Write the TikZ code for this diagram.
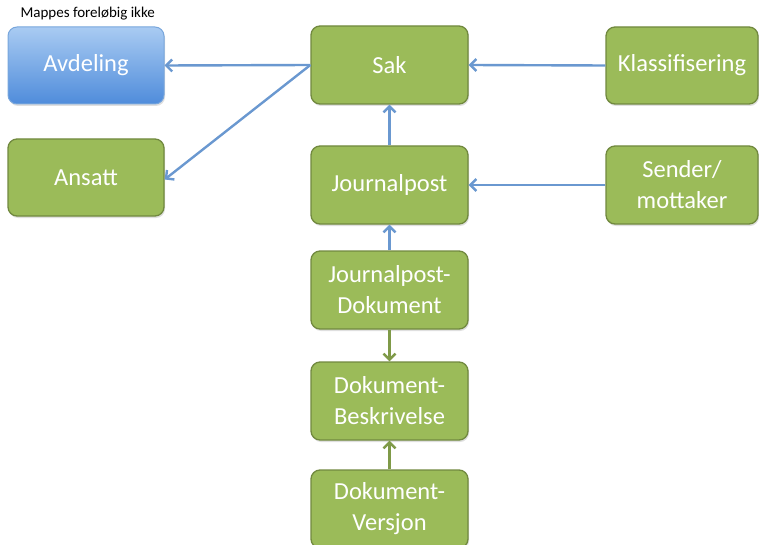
\documentclass[tikz,border=0pt]{standalone}
\usepackage{fontspec}
\setmainfont{Carlito}
\usetikzlibrary{arrows.meta,shadows}
\definecolor{gfill}{HTML}{9BBB59}
\definecolor{gline}{HTML}{71893F}
\definecolor{barrow}{HTML}{6A98D0}
\definecolor{garrow}{HTML}{7F9A48}
\definecolor{btop}{HTML}{A9CBF2}
\definecolor{bbot}{HTML}{4F8CDB}
\definecolor{bline}{HTML}{78A6DC}
\tikzset{
  gbox/.style={draw=gline, line width=1.3pt, fill=gfill, rounded corners=9pt,
    text=white, align=center, font=\fontsize{24.5}{31}\selectfont,
    drop shadow={opacity=0.25, shadow xshift=1pt, shadow yshift=-2pt}},
  bbox/.style={draw=bline, line width=1pt, top color=btop, bottom color=bbot, rounded corners=9pt,
    text=white, align=center, font=\fontsize{24.5}{31}\selectfont,
    drop shadow={opacity=0.25, shadow xshift=1pt, shadow yshift=-2pt}},
  barr/.style={draw=barrow, line width=2.4pt, -{Straight Barb[length=6pt,width=12pt]}},
  garr/.style={draw=garrow, line width=2.4pt, -{Straight Barb[length=6pt,width=12pt]}},
}
\begin{document}
\begin{tikzpicture}[x=1pt,y=-1pt]
\useasboundingbox (0,0) rectangle (759,545);
\node[bbox, minimum width=156pt, minimum height=77pt] (avd) at (86,65.5) {\raisebox{-2pt}{Avdeling}};
\node[anchor=base west, font=\fontsize{15}{17}\selectfont] (map) at (17,18) {Mappes foreløbig ikke};
\node[gbox, minimum width=156pt, minimum height=77pt] (ans) at (86,177.5) {\raisebox{-2pt}{Ansatt}};
\node[gbox, minimum width=157pt, minimum height=78pt] (sak) at (389.5,65) {\raisebox{-3pt}{Sak}};
\node[gbox, minimum width=157pt, minimum height=78pt] (jp) at (389.5,185) {\raisebox{-2pt}{Journalpost}};
\node[gbox, minimum width=152pt, minimum height=77pt] (kla) at (682,65.5) {\raisebox{-2pt}{Klassifisering}};
\node[gbox, minimum width=152pt, minimum height=78pt] (sm) at (682,185) {Sender/\\mottaker};
\node[gbox, minimum width=157pt, minimum height=78pt] (jpd) at (389.5,290) {Journalpost-\\Dokument};
\node[gbox, minimum width=157pt, minimum height=78pt] (db) at (389.5,401) {Dokument-\\Beskrivelse};
\node[gbox, minimum width=157pt, minimum height=78pt] (dv) at (389.5,509) {Dokument-\\Versjon};
\draw[barr] (sak.west) -- (avd.east);
\draw[barr] (sak.west) -- ([yshift=-2pt]ans.east);
\draw[barr] (kla.west) -- (sak.east);
\draw[barr] (sm.west) -- (jp.east);
\draw[barr] (jp.north) -- (sak.south);
\draw[barr] (jpd.north) -- (jp.south);
\draw[garr] (jpd.south) -- (db.north);
\draw[garr] (dv.north) -- (db.south);
\end{tikzpicture}
\end{document}
